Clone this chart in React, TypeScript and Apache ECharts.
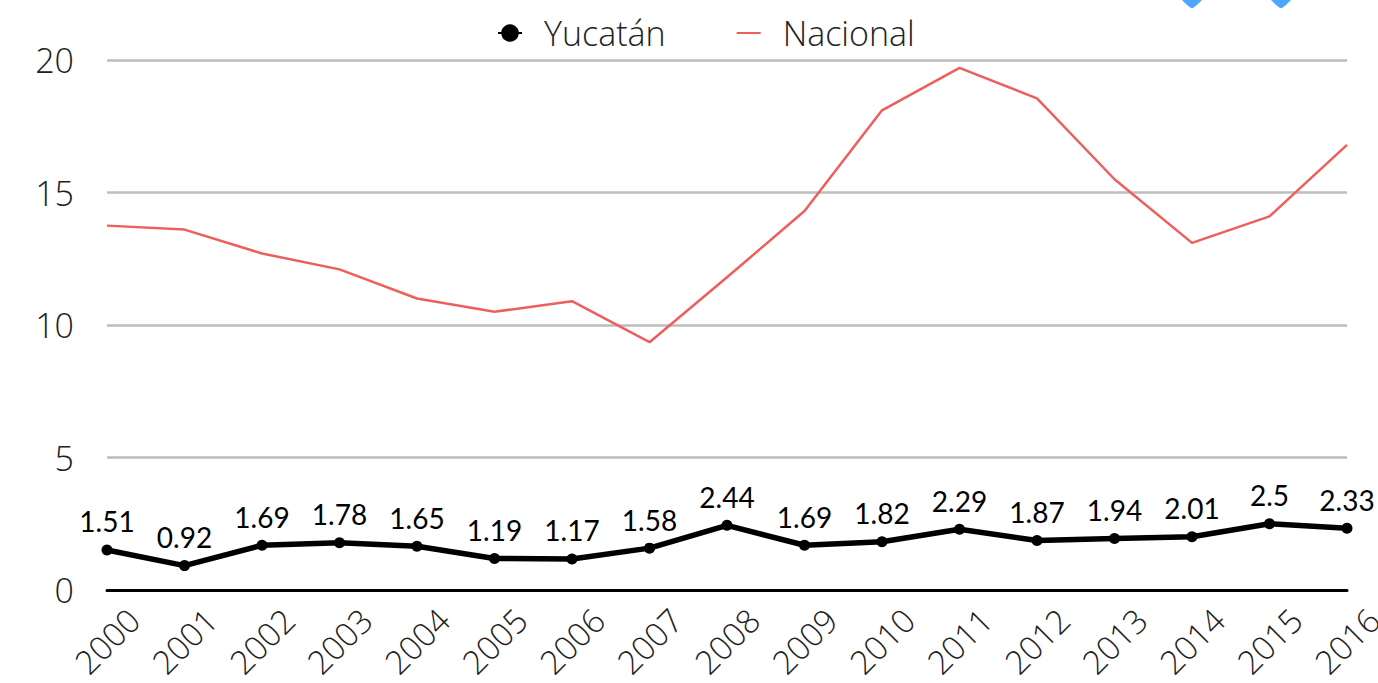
import React, { useEffect, useRef } from "react";
import * as echarts from "echarts";

const years = ["2000","2001","2002","2003","2004","2005","2006","2007","2008","2009","2010","2011","2012","2013","2014","2015","2016"];
const yucatan = [1.51,0.92,1.69,1.78,1.65,1.19,1.17,1.58,2.44,1.69,1.82,2.29,1.87,1.94,2.01,2.5,2.33];
const nacional = [13.75,13.6,12.7,12.1,11.0,10.5,10.9,9.35,11.8,14.3,18.1,19.7,18.55,15.5,13.1,14.1,16.8];
const FONT = "Open Sans";

export default function App() {
  const ref = useRef<HTMLDivElement>(null);
  useEffect(() => {
    const chart = echarts.init(ref.current!, null, { renderer: "svg" });
    const pin = (x: number) => ({
      type: "polygon",
      shape: { points: [[x - 10, 0], [x + 10, 0], [x + 5, 5], [x + 1, 8], [x - 1, 8], [x - 5, 5]] },
      style: { fill: "#4da6ff" },
    });
    chart.setOption({
      animation: false,
      backgroundColor: "#fff",
      grid: { left: 107, right: 31, top: 60, bottom: 93, outerBoundsMode: "none" },
      legend: {
        top: 11,
        left: 492,
        itemWidth: 24,
        itemHeight: 22,
        itemGap: 70,
        textStyle: { fontFamily: FONT, fontWeight: 300, fontSize: 34, color: "#222", padding: [0, 0, 0, 17] },
        data: [
          { name: "Yucatán", lineStyle: { width: 2 } },
          { name: "Nacional", itemStyle: { color: "transparent", borderWidth: 0 } },
        ],
      },
      xAxis: {
        type: "category",
        boundaryGap: false,
        data: years,
        axisLine: { lineStyle: { color: "#000", width: 3 } },
        axisTick: { show: false },
        axisLabel: {
          rotate: 45, interval: 0, margin: 51, align: "center", verticalAlign: "middle",
          fontFamily: FONT, fontWeight: 300, fontSize: 33, color: "#222",
        },
      },
      yAxis: {
        type: "value",
        min: 0, max: 20, interval: 5,
        axisLine: { show: false },
        axisTick: { show: false },
        splitLine: { lineStyle: { color: "#bdbdbd", width: 2.5 } },
        axisLabel: { margin: 33, padding: [0, 0, 6, 0], fontFamily: FONT, fontWeight: 300, fontSize: 34, color: "#222" },
      },
      series: [
        {
          name: "Yucatán",
          type: "line",
          data: yucatan,
          symbol: "circle",
          symbolSize: 11,
          lineStyle: { color: "#000", width: 5.5 },
          itemStyle: { color: "#000" },
          label: {
            show: true, position: "top", distance: 9, color: "#000",
            fontFamily: "Lato", fontSize: 28,
          },
          z: 3,
        },
        {
          name: "Nacional",
          type: "line",
          data: nacional,
          symbol: "none",
          lineStyle: { color: "#ee5f5b", width: 2.5 },
          itemStyle: { color: "#ee5f5b" },
          z: 2,
        },
      ],
      graphic: [pin(1192), pin(1281)],
    });
    return () => chart.dispose();
  }, []);
  return <div ref={ref} style={{ position: "absolute", left: 0, top: 0, width: 1378, height: 683 }} />;
}
